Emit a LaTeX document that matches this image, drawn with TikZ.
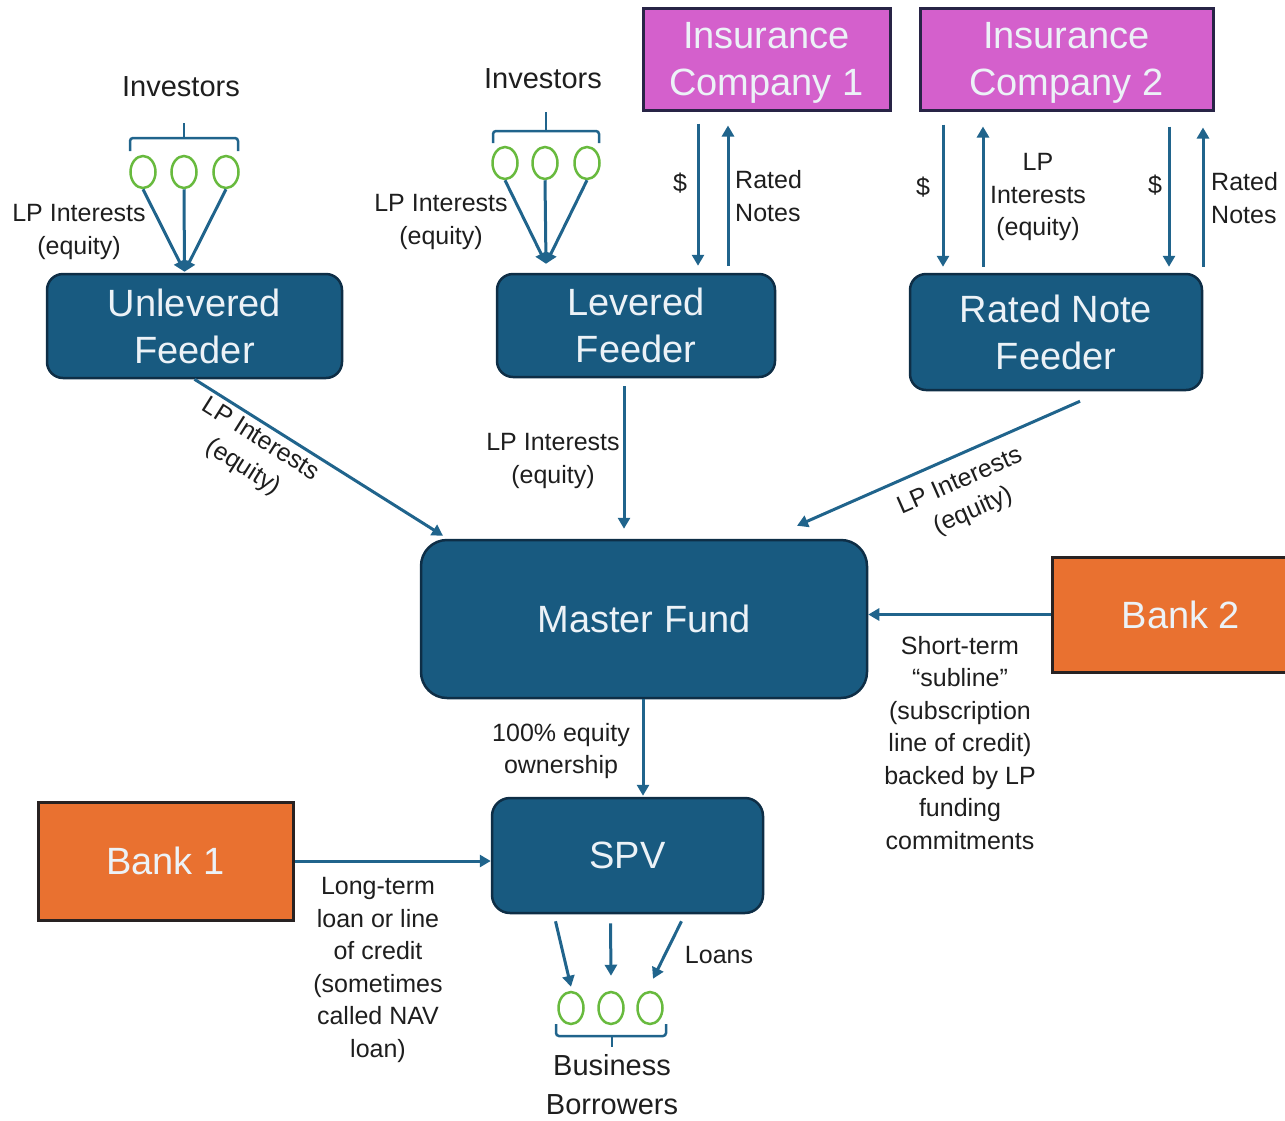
\documentclass[tikz,border=0pt]{standalone}
\usepackage{fontspec}
\setmainfont{Liberation Sans}
\usetikzlibrary{arrows.meta,shapes.geometric}

\definecolor{fundblue}{RGB}{24,90,128}
\definecolor{fundedge}{RGB}{14,46,70}
\definecolor{flowblue}{RGB}{32,100,140}
\definecolor{insmagenta}{RGB}{212,96,204}
\definecolor{insedge}{RGB}{40,36,70}
\definecolor{bankorange}{RGB}{233,113,48}
\definecolor{bankedge}{RGB}{40,34,34}
\definecolor{partygreen}{RGB}{104,186,62}
\definecolor{lblgray}{RGB}{30,30,30}
\definecolor{boxtext}{RGB}{236,242,247}

\newcommand\bigtxt{\fontsize{38}{47}\selectfont}
\newcommand\lbltxt{\fontsize{25}{32.5}\selectfont}
\newcommand\hdrtxt{\fontsize{29}{39}\selectfont}

\tikzset{
  fundbox/.style={draw=fundedge, line width=2.5pt, fill=fundblue, rounded corners=16pt,
    text=boxtext, font=\bigtxt, align=center, inner sep=0pt, text depth=0pt},
  insbox/.style={draw=insedge, line width=3pt, fill=insmagenta,
    text=boxtext, font=\bigtxt, align=center, inner sep=0pt, text depth=0pt},
  bankbox/.style={draw=bankedge, line width=3pt, fill=bankorange,
    text=boxtext, font=\bigtxt, align=center, inner sep=0pt},
  lbl/.style={font=\lbltxt, text=lblgray, align=center, inner sep=2pt},
  hdr/.style={font=\hdrtxt, text=lblgray, align=center},
  party/.style={ellipse, draw=partygreen, line width=2.5pt, minimum width=25pt,
    minimum height=32pt, inner sep=0pt},
  flow/.style={draw=flowblue, line width=3pt, -{Triangle[length=11pt,width=12pt]}},
  grp/.style={draw=flowblue, line width=2.5pt, rounded corners=3pt},
}

\begin{document}
\begin{tikzpicture}[x=1pt,y=-1pt]
\useasboundingbox (0,0) rectangle (1285,1120);

\coordinate (a0) at (624,0);
\coordinate (a1) at (698,0);
\coordinate (a2) at (728,0);
\coordinate (a3) at (943,0);
\coordinate (a4) at (983,0);
\coordinate (a5) at (1169,0);
\coordinate (a6) at (1203,0);
\coordinate (a7) at (643,0);

% boxes
\node[insbox, minimum width=247pt, minimum height=102pt] (ic1) at (766.5,59) {Insurance\\Company 1};
\node[insbox, minimum width=293pt, minimum height=102pt] (ic2) at (1066.5,59) {Insurance\\Company 2};
\node[fundbox, minimum width=295pt, minimum height=104pt] (uf) at (194.5,326) {Unlevered\\Feeder};
\node[fundbox, minimum width=278pt, minimum height=103pt] (lf) at (636,325.5) {Levered\\Feeder};
\node[fundbox, minimum width=292pt, minimum height=116pt] (rnf) at (1056,332) {Rated Note\\Feeder};
\node[fundbox, minimum width=446pt, minimum height=158pt, rounded corners=26pt] (mf) at (644,619) {Master Fund};
\node[fundbox, minimum width=271pt, minimum height=115pt, rounded corners=18pt] (spv) at (627.5,855.5) {SPV};
\node[bankbox, minimum width=255pt, minimum height=118pt] (b1) at (165.5,861) {Bank 1};
\node[bankbox, minimum width=258pt, minimum height=115pt] (b2) at (1181,614.5) {Bank 2};

% investors and borrowers
\node[hdr] (inv1) at (181,87) {Investors};
\node[hdr] (inv2) at (543,79) {Investors};
\node[party] (iu1) at (143,172) {};
\node[party] (iu2) at (184,172) {};
\node[party] (iu3) at (226,172) {};
\node[party] (il1) at (505,163) {};
\node[party] (il2) at (545,163) {};
\node[party] (il3) at (587,163) {};
\node[party] (bb1) at (571,1008) {};
\node[party] (bb2) at (611,1008) {};
\node[party] (bb3) at (650,1008) {};
\node[hdr] (bor) at (612,1085) {Business\\Borrowers};

\draw[grp] (130,151) -- (130,138) -- (238,138) -- (238,151);
\draw[grp] (184,138) -- (184,123);
\draw[grp] (493,143) -- (493,131) -- (599,131) -- (599,143);
\draw[grp] (546,131) -- (546,112);
\draw[grp] (556,1024) -- (556,1036) -- (666,1036) -- (666,1024);
\draw[grp] (612,1036) -- (612,1047);

% flows
\draw[flow] (iu1.south) -- ([xshift=-10pt,yshift=1pt]uf.north);
\draw[flow] (iu2.south) -- ([xshift=-10pt,yshift=1pt]uf.north);
\draw[flow] (iu3.south) -- ([xshift=-10pt,yshift=1pt]uf.north);
\draw[flow] (il1.south) -- ([xshift=-90pt,yshift=9pt]lf.north);
\draw[flow] (il2.south) -- ([xshift=-90pt,yshift=9pt]lf.north);
\draw[flow] (il3.south) -- ([xshift=-90pt,yshift=9pt]lf.north);

\draw[flow, shorten <=12pt, shorten >=7pt] (ic1.south -| a1) -- (lf.north -| a1);
\draw[flow, shorten <=7pt, shorten >=14pt] (lf.north -| a2) -- (ic1.south -| a2);
\draw[flow, shorten <=13pt, shorten >=6pt] (ic2.south -| a3) -- (rnf.north -| a3);
\draw[flow, shorten <=6pt, shorten >=15pt] (rnf.north -| a4) -- (ic2.south -| a4);
\draw[flow, shorten <=15pt, shorten >=6pt] (ic2.south -| a5) -- (rnf.north -| a5);
\draw[flow, shorten <=6pt, shorten >=16pt] (rnf.north -| a6) -- (ic2.south -| a6);

\draw[flow] (uf.south) -- node[lbl, sloped, below, pos=0.30, inner sep=4pt] (lu) {LP Interests\\(equity)} ([xshift=-201pt,yshift=3pt]mf.north);
\draw[flow, shorten <=8pt, shorten >=10pt] (lf.south -| a0) -- (mf.north -| a0);
\draw[flow] ([xshift=24pt,yshift=-10pt]rnf.south) -- node[lbl, sloped, below, pos=0.46, inner sep=13pt] (lr) {LP Interests\\(equity)} ([xshift=153pt,yshift=13pt]mf.north);
\draw[flow] (b2.west) -- (mf.east |- b2.west);
\draw[flow, shorten >=1pt] (mf.south -| a7) -- (spv.north -| a7);
\draw[flow] (b1.east) -- (spv.west |- b1.east);
\draw[flow] ([xshift=-72pt,yshift=-7pt]spv.south) -- ([yshift=4pt]bb1.north);
\draw[flow] ([xshift=-17pt,yshift=-9pt]spv.south) -- ([yshift=15pt]bb2.north);
\draw[flow] ([xshift=54pt,yshift=-7pt]spv.south) -- ([xshift=3pt,yshift=12pt]bb3.north);

% labels
\node[lbl] (l1) at (79,232) {LP Interests\\(equity)};
\node[lbl] (l2) at (441,222) {LP Interests\\(equity)};
\node[lbl] (d1) at (680,183) {\$};
\node[lbl, anchor=west, align=left] (rn1) at (733,196) {Rated\\Notes};
\node[lbl] (d2) at (923,187) {\$};
\node[lbl] (l3) at (1038,197) {LP\\Interests\\(equity)};
\node[lbl] (d3) at (1155,185) {\$};
\node[lbl, anchor=west, align=left] (rn2) at (1209,198) {Rated\\Notes};
\node[lbl] (l4) at (553,461) {LP Interests\\(equity)};
\node[lbl] (own) at (561,751) {100\% equity\\ownership};
\node[lbl] (sub) at (960,743) {Short-term\\“subline”\\(subscription\\line of credit)\\backed by LP\\funding\\commitments};
\node[lbl] (nav) at (378,970) {Long-term\\loan or line\\of credit\\(sometimes\\called NAV\\loan)};
\node[lbl] (lns) at (719,955) {Loans};
\end{tikzpicture}
\end{document}
